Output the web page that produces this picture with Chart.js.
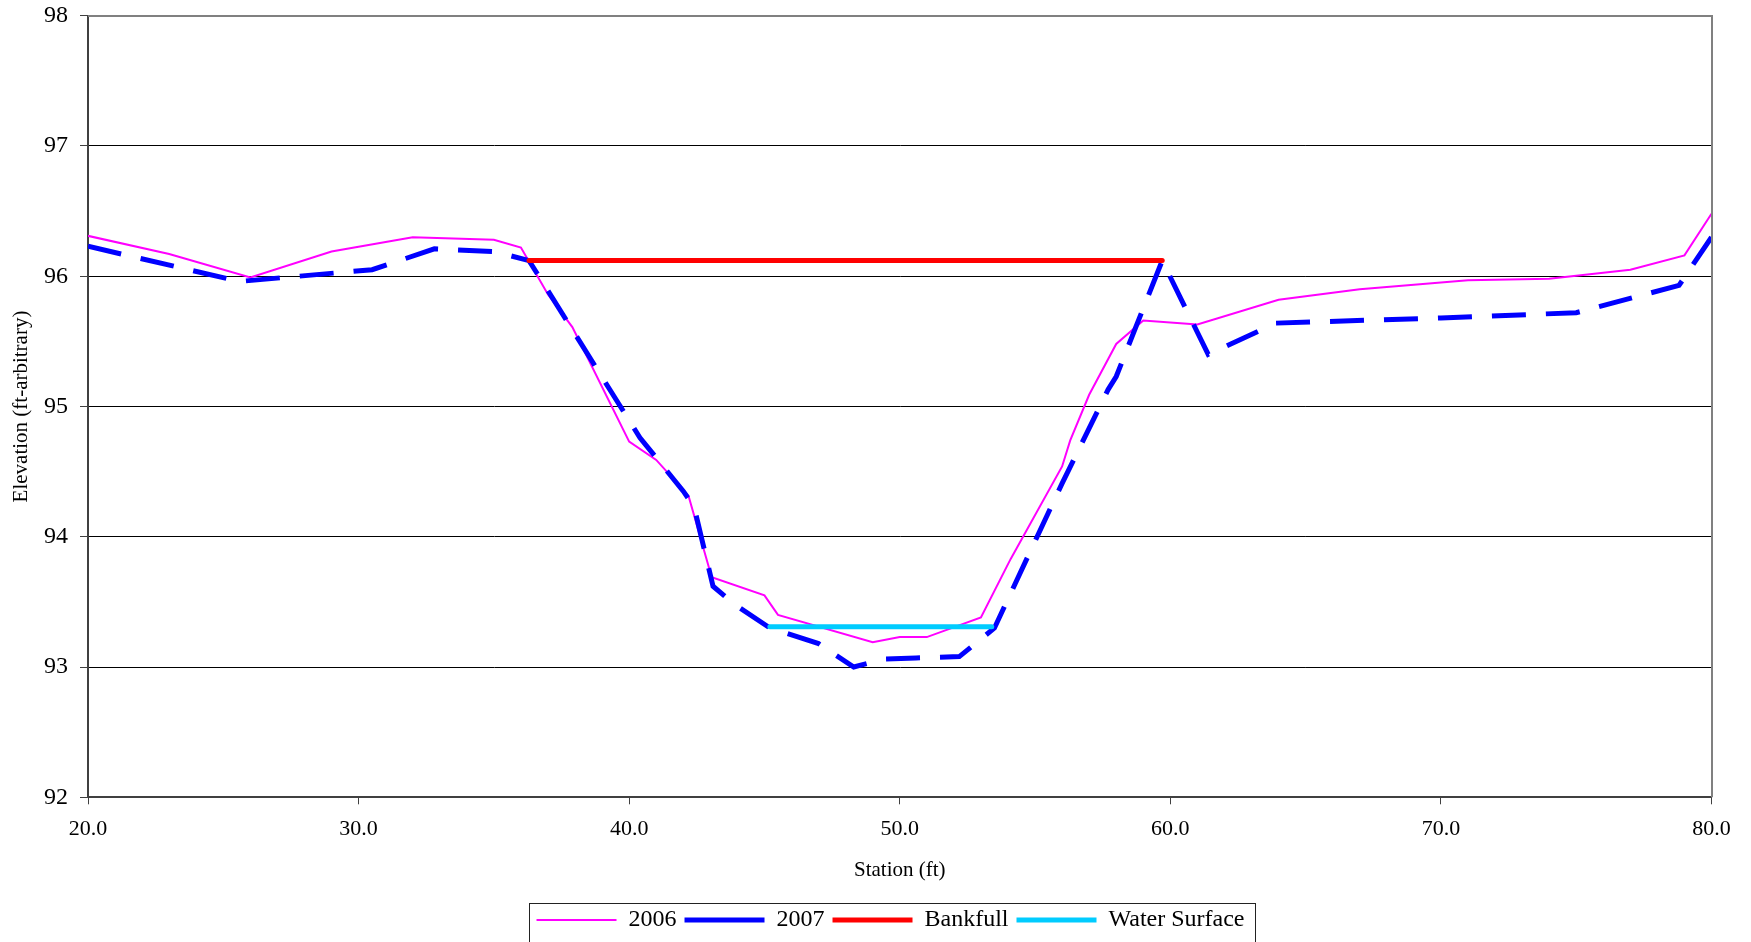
<!DOCTYPE html>
<html>
<head>
<meta charset="utf-8">
<title>Cross section</title>
<script src="https://cdn.jsdelivr.net/npm/chart.js@4.4.1/dist/chart.umd.min.js"></script>
<style>
  html, body { margin: 0; padding: 0; background: #fff; }
  canvas { display: block; }
</style>
</head>
<body>
<canvas id="sectionChart" width="1751" height="942"></canvas>
<script>
// Survey values
const station2006 = [20.0, 23.0, 26.0, 29.0, 32.0, 35.0, 36.0, 37.0, 37.9, 40.0, 41.0, 42.0, 42.2, 43.05, 45.0, 45.5, 49.0, 50.0, 51.0, 53.0, 54.1, 56.0, 56.3, 57.0, 58.0, 59.0, 61.0, 64.0, 67.0, 71.0, 74.0, 77.0, 79.0, 80.0];
const elev2006 = [96.31, 96.17, 95.99, 96.19, 96.30, 96.28, 96.22, 95.86, 95.61, 94.73, 94.59, 94.36, 94.31, 93.69, 93.55, 93.40, 93.19, 93.23, 93.23, 93.38, 93.83, 94.54, 94.74, 95.09, 95.48, 95.66, 95.63, 95.82, 95.90, 95.97, 95.98, 96.05, 96.16, 96.48];

const station2007 = [20.0, 25.6, 30.5, 32.8, 35.0, 36.3, 40.4, 42.0, 42.4, 43.1, 43.9, 45.2, 47.0, 48.3, 49.4, 50.6, 52.2, 53.5, 56.0, 57.7, 58.0, 59.7, 61.4, 63.9, 70.0, 75.0, 78.8, 80.0];
const elev2007 = [96.23, 95.96, 96.05, 96.21, 96.19, 96.12, 94.76, 94.35, 94.23, 93.62, 93.48, 93.30, 93.18, 93.00, 93.06, 93.07, 93.08, 93.30, 94.41, 95.13, 95.23, 96.12, 95.40, 95.64, 95.68, 95.72, 95.93, 96.30];

const stationBankfull = [36.3, 59.7];
const elevBankfull = [96.12, 96.12];

const stationWater = [45.2, 53.4];
const elevWater = [93.31, 93.31];

const stationTicks = [20, 30, 40, 50, 60, 70, 80];
const elevationTicks = [92, 93, 94, 95, 96, 97, 98];

const serif = 'Liberation Serif';

// pair up station / elevation arrays into points
const toPoints = (xs, ys) => xs.map((x, i) => ({ x: x, y: ys[i] }));

// fix a scale's size and drop the label overhang padding
const fixSize = (size) => (scale) => {
    if (scale.isHorizontal()) scale.height = size; else scale.width = size;
    scale.paddingTop = 0;
    scale.paddingBottom = 0;
    scale.paddingLeft = 0;
    scale.paddingRight = 0;
};

// gray frame along the top and right of the plot area
const plotFrame = {
    id: 'plotFrame',
    afterDatasetsDraw(chart) {
        const { ctx, chartArea } = chart;
        const top = Math.round(chartArea.top);
        const right = Math.round(chartArea.right);
        ctx.save();
        ctx.strokeStyle = '#808080';
        ctx.lineWidth = 2;
        ctx.beginPath();
        ctx.moveTo(chartArea.left, top);
        ctx.lineTo(right, top);
        ctx.lineTo(right, chartArea.bottom);
        ctx.stroke();
        ctx.restore();
    }
};

// thin box round the legend entries
const legendFrame = {
    id: 'legendFrame',
    afterDraw(chart) {
        const boxes = chart.legend && chart.legend.legendHitBoxes;
        if (!boxes || !boxes.length) return;
        const first = boxes[0];
        const last = boxes[boxes.length - 1];
        const left = Math.round(first.left - 8) + 0.5;
        const right = Math.round(last.left + last.width + 11) + 0.5;
        const top = Math.round(first.top - 5) + 0.5;
        const ctx = chart.ctx;
        ctx.save();
        ctx.strokeStyle = '#222';
        ctx.lineWidth = 1;
        ctx.strokeRect(left, top, right - left, 100);
        ctx.restore();
    }
};

Chart.defaults.color = '#000';

new Chart(document.getElementById('sectionChart'), {
    type: 'scatter',
    data: {
        datasets: [
            {
                label: '2006',
                data: toPoints(station2006, elev2006),
                showLine: true,
                borderColor: '#FF00FF',
                backgroundColor: '#FF00FF',
                borderWidth: 2,
                pointRadius: 0,
                order: 4
            },
            {
                label: '2007',
                data: toPoints(station2007, elev2007),
                showLine: true,
                borderColor: '#0000FF',
                backgroundColor: '#0000FF',
                borderWidth: 5,
                borderDash: [34, 20],
                borderCapStyle: 'butt',
                pointRadius: 0,
                order: 3
            },
            {
                label: 'Bankfull',
                data: toPoints(stationBankfull, elevBankfull),
                showLine: true,
                borderColor: '#FF0000',
                backgroundColor: '#FF0000',
                borderWidth: 5,
                borderCapStyle: 'round',
                pointRadius: 0,
                order: 2
            },
            {
                label: 'Water Surface',
                data: toPoints(stationWater, elevWater),
                showLine: true,
                borderColor: '#00CCFF',
                backgroundColor: '#00CCFF',
                borderWidth: 5,
                borderCapStyle: 'round',
                pointRadius: 0,
                order: 1
            }
        ]
    },
    options: {
        responsive: false,
        animation: false,
        events: [],
        layout: { padding: { left: 30, right: 0, top: 15.7, bottom: 0 } },
        plugins: {
            legend: {
                position: 'bottom',
                labels: {
                    usePointStyle: true,
                    pointStyle: 'line',
                    pointStyleWidth: 80,
                    padding: 8,
                    color: '#000',
                    font: { family: serif, size: 24 },
                    sort: (a, b) => a.datasetIndex - b.datasetIndex
                }
            },
            tooltip: { enabled: false }
        },
        scales: {
            x: {
                type: 'linear',
                min: 20,
                max: 80,
                afterFit: fixSize(102.7),
                afterBuildTicks: (scale) => { scale.ticks = stationTicks.map(v => ({ value: v })); },
                ticks: {
                    callback: (v) => Number(v).toFixed(1),
                    padding: 12,
                    maxRotation: 0,
                    color: '#000',
                    font: { family: serif, size: 22 }
                },
                title: {
                    display: true,
                    text: 'Station (ft)',
                    color: '#000',
                    font: { family: serif, size: 21 },
                    padding: { top: 0, bottom: 17.4 }
                },
                grid: {
                    drawOnChartArea: false,
                    tickLength: 7,
                    tickColor: '#404040',
                    tickWidth: 1
                },
                border: { color: '#404040', width: 2 }
            },
            y: {
                type: 'linear',
                min: 92,
                max: 98,
                afterFit: fixSize(58),
                afterBuildTicks: (scale) => { scale.ticks = elevationTicks.map(v => ({ value: v })); },
                ticks: {
                    callback: (v) => String(v),
                    padding: 12,
                    color: '#000',
                    font: { family: serif, size: 24 }
                },
                title: {
                    display: true,
                    text: 'Elevation (ft-arbitrary)',
                    color: '#000',
                    font: { family: serif, size: 21 },
                    padding: { top: -21.6, bottom: 0 }
                },
                grid: {
                    color: '#000',
                    lineWidth: 1,
                    tickLength: 8,
                    tickColor: '#404040'
                },
                border: { color: '#404040', width: 2 }
            },
            // empty right-hand margin, keeps the legend centred like the original
            yMargin: {
                type: 'linear',
                position: 'right',
                min: 92,
                max: 98,
                afterFit: fixSize(39.5),
                ticks: { display: false },
                grid: { display: false },
                border: { display: false }
            }
        }
    },
    plugins: [plotFrame, legendFrame]
});
</script>
</body>
</html>
